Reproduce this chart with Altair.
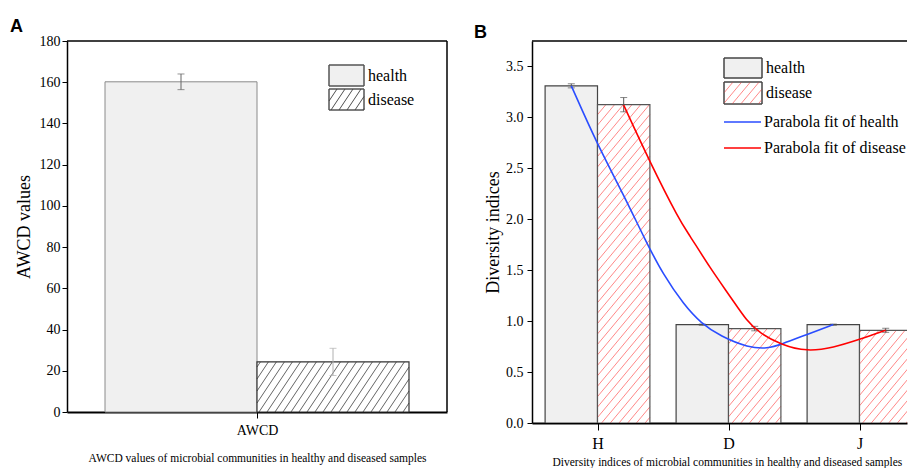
import math
import altair as alt
import pandas as pd

# ---------------- data ----------------
a_groups = ["health", "disease"]
a_values = [160.2, 24.3]
a_errors = [3.8, 6.6]

b_categories = ["H", "D", "J"]
b_health = [3.31, 0.965, 0.965]
b_health_err = [0.02, 0.006, 0.006]
b_disease = [3.125, 0.927, 0.91]
b_disease_err = [0.07, 0.022, 0.02]

# fitted parabola curves (x in category units: H=0, D=1, J=2)
fit_health_x = [-0.2, 0.0, 0.2, 0.37, 0.5, 0.66, 0.79, 0.94, 1.15, 1.3, 1.4, 1.6, 1.8]
fit_health_y = [3.31, 2.73, 2.24, 1.78, 1.46, 1.16, 0.98, 0.85, 0.74, 0.73, 0.77, 0.87, 0.966]
fit_disease_x = [0.2, 0.4, 0.63, 0.69, 0.86, 1.02, 1.14, 1.24, 1.4, 1.6, 1.8, 2.0, 2.2]
fit_disease_y = [3.12, 2.56, 1.98, 1.87, 1.52, 1.23, 1.0, 0.88, 0.77, 0.70, 0.74, 0.82, 0.91]

a_caption = "AWCD values of microbial communities in healthy and diseased samples"
b_caption = "Diversity indices of microbial communities in healthy and diseased samples"

# ---------------- layout / style ----------------
SERIF = "Liberation Serif"
SANS = "Liberation Sans"
A_W, A_H = 380, 371
B_W, B_H = 375, 382
A_XDOM = [-0.5, 0.5]
A_YDOM = [0, 180]
B_STEP = 131.0
B_XDOM = [-0.5, -0.5 + B_W / B_STEP]
B_YDOM = [0, 3.75]
BAR = 0.4  # width of one bar in category units


def hatch_px(x0, x1, y0, y1, step, slope):
    """Diagonal hatch segments (direction (1, slope), y up) clipped to a rectangle."""
    segs = []
    run = (y1 - y0) / slope
    k0 = math.floor((x0 - run) / step)
    k1 = math.ceil(x1 / step)
    for k in range(k0, k1 + 1):
        c = k * step
        xs = max(c, x0)
        xe = min(c + run, x1)
        if xe - xs > 0.3:
            segs.append((xs, y0 + slope * (xs - c), xe, y0 + slope * (xe - c)))
    return segs


def hatch_data(xd0, xd1, yd0, yd1, xdom, ydom, w, h, step, slope):
    kx = w / (xdom[1] - xdom[0])
    ky = h / (ydom[1] - ydom[0])
    segs = hatch_px((xd0 - xdom[0]) * kx, (xd1 - xdom[0]) * kx,
                    (yd0 - ydom[0]) * ky, (yd1 - ydom[0]) * ky, step, slope)
    return [dict(x=s[0] / kx + xdom[0], x2=s[2] / kx + xdom[0],
                 y=s[1] / ky + ydom[0], y2=s[3] / ky + ydom[0]) for s in segs]


def hatch_legend(x0, x1, ytop, ybot, step, slope):
    segs = hatch_px(x0, x1, -ybot, -ytop, step, slope)
    return pd.DataFrame([dict(x=s[0], x2=s[2], y=-s[1], y2=-s[3]) for s in segs])


def bars_table(values, errors, centers, offset):
    rows = []
    for v, e, c in zip(values, errors, centers):
        x0 = c + offset
        rows.append(dict(x0=x0, x1=x0 + BAR, xc=x0 + BAR / 2, v=v, base=0.0,
                         lo=v - e, hi=v + e))
    return pd.DataFrame(rows)


def PX(field):
    return alt.X(field, scale=None)


def PY(field):
    return alt.Y(field, scale=None)


ONE = pd.DataFrame(dict(k=[0]))


def frame_lines(xs, ys, xdom, ydom, right=True):
    top = alt.Chart(ONE).mark_rule(color="black", strokeWidth=1.5).encode(
        x=alt.X(datum=xdom[0], scale=xs), x2=alt.X2(datum=xdom[1]),
        y=alt.Y(datum=ydom[1], scale=ys))
    out = [top]
    if right:
        out.append(alt.Chart(ONE).mark_rule(color="black", strokeWidth=1.5).encode(
            x=alt.X(datum=xdom[1], scale=xs),
            y=alt.Y(datum=ydom[0], scale=ys), y2=alt.Y2(datum=ydom[1])))
    return out


def err_layers(df, xs, ys, color, cap):
    rule = alt.Chart(df).mark_rule(color=color, strokeWidth=1).encode(
        x=alt.X("xc:Q", scale=xs), y=alt.Y("lo:Q", scale=ys), y2="hi:Q")
    t1 = alt.Chart(df).mark_tick(color=color, orient="horizontal", size=cap, thickness=1).encode(
        x=alt.X("xc:Q", scale=xs), y=alt.Y("lo:Q", scale=ys))
    t2 = alt.Chart(df).mark_tick(color=color, orient="horizontal", size=cap, thickness=1).encode(
        x=alt.X("xc:Q", scale=xs), y=alt.Y("hi:Q", scale=ys))
    return [rule, t1, t2]


def legend_layers(boxes, hatch_df, hatch_color, fill_health, stroke_box, font_size):
    box = alt.Chart(boxes).mark_rect(strokeWidth=1).encode(
        x=PX("bx0:Q"), x2="bx1:Q", y=PY("by0:Q"), y2="by1:Q",
        fill=alt.Fill("label:N", scale=alt.Scale(domain=["health", "disease"],
                                                  range=[fill_health, "#ffffff"]), legend=None),
        stroke=alt.value(stroke_box))
    hat = alt.Chart(hatch_df).mark_rule(color=hatch_color, strokeWidth=0.8).encode(
        x=PX("x:Q"), x2="x2:Q", y=PY("y:Q"), y2="y2:Q")
    box2 = alt.Chart(boxes).mark_rect(fillOpacity=0, strokeWidth=1).encode(
        x=PX("bx0:Q"), x2="bx1:Q", y=PY("by0:Q"), y2="by1:Q", stroke=alt.value(stroke_box))
    txt = alt.Chart(boxes).mark_text(align="left", baseline="middle", font=SERIF,
                                     fontSize=font_size, color="black").encode(
        x=PX("tx:Q"), y=PY("ty:Q"), text="label:N")
    return [box, hat, box2, txt]


# ---------------- panel A ----------------
a_x_axis = alt.Axis(values=[0], labelExpr="'AWCD'", tickSize=6, tickColor="black",
                    domainColor="black", domainWidth=2, labelFont=SERIF, labelFontSize=14,
                    labelColor="black", labelPadding=5, grid=False, title=a_caption,
                    titleFont=SERIF, titleFontSize=11.5, titleFontWeight="normal",
                    titleColor="black", titlePadding=15)
a_y_axis = alt.Axis(values=list(range(0, 181, 10)),
                    labelExpr="datum.value % 20 === 0 ? datum.label : ''",
                    tickSize={"condition": {"test": "datum.value % 20 === 0", "value": 5},
                              "value": 3},
                    tickColor="black", domainColor="black", domainWidth=1.5,
                    labelFont=SERIF, labelFontSize=14, labelColor="black", labelPadding=2,
                    grid=False, title="AWCD values", titleFont=SERIF, titleFontSize=18,
                    titleFontWeight="normal", titleColor="black", titlePadding=6)
xa = alt.Scale(domain=A_XDOM, nice=False, zero=False)
ya = alt.Scale(domain=A_YDOM, nice=False)

a_health = bars_table([a_values[0]], [a_errors[0]], [0], -BAR)
a_dis = bars_table([a_values[1]], [a_errors[1]], [0], 0)

a_bar_h = alt.Chart(a_health).mark_rect(fill="#f0f0f0", stroke="#8a8a8a", strokeWidth=1).encode(
    x=alt.X("x0:Q", scale=xa, axis=a_x_axis), x2="x1:Q",
    y=alt.Y("v:Q", scale=ya, axis=a_y_axis), y2="base:Q")
a_bar_d = alt.Chart(a_dis).mark_rect(fill="white").encode(
    x=alt.X("x0:Q", scale=xa), x2="x1:Q", y=alt.Y("v:Q", scale=ya), y2="base:Q")
a_hatch_df = pd.DataFrame(hatch_data(a_dis.x0[0], a_dis.x1[0], 0, a_dis.v[0],
                                     A_XDOM, A_YDOM, A_W, A_H, 8, 1.5))
a_hatch = alt.Chart(a_hatch_df).mark_rule(color="#222222", strokeWidth=0.7).encode(
    x=alt.X("x:Q", scale=xa), x2="x2:Q", y=alt.Y("y:Q", scale=ya), y2="y2:Q")
a_bar_d2 = alt.Chart(a_dis).mark_rect(fillOpacity=0, stroke="#333333", strokeWidth=1.2).encode(
    x=alt.X("x0:Q", scale=xa), x2="x1:Q", y=alt.Y("v:Q", scale=ya), y2="base:Q")

a_leg = pd.DataFrame(dict(label=["health", "disease"], bx0=[262, 262], bx1=[297, 297],
                          by0=[24, 48], by1=[45, 69], tx=[301, 301], ty=[35, 59]))
a_leg_hatch = hatch_legend(262, 297, 48, 69, 8, 1.5)

panel_a = alt.layer(
    a_bar_h, a_bar_d, a_hatch, a_bar_d2,
    *err_layers(a_health, xa, ya, "#666666", 7),
    *err_layers(a_dis, xa, ya, "#b0b0b0", 7),
    *frame_lines(xa, ya, A_XDOM, A_YDOM, right=True),
    *legend_layers(a_leg, a_leg_hatch, "#222222", "#f0f0f0", "#555555", 16),
).properties(
    width=A_W, height=A_H,
    title=alt.TitleParams("A", anchor="start", frame="group", dx=-57, font=SANS,
                          fontSize=18, fontWeight="bold", color="black", offset=-2),
)

# ---------------- panel B ----------------
idx = list(range(len(b_categories)))
cat_expr = "[" + ",".join("'%s'" % c for c in b_categories) + "][datum.value]"
b_x_axis = alt.Axis(values=idx, labelExpr=cat_expr, tickSize=7, tickColor="black",
                    domainColor="black", domainWidth=2, labelFont=SERIF, labelFontSize=16,
                    labelColor="black", labelPadding=5, grid=False, title=b_caption,
                    titleFont=SERIF, titleFontSize=11.5, titleFontWeight="normal",
                    titleColor="black", titlePadding=5, titleX=20, titleAlign="left")
b_y_axis = alt.Axis(values=[i * 0.25 for i in range(15)],
                    labelExpr="round(datum.value * 100) % 50 === 0 ? format(datum.value, '.1f') : ''",
                    tickSize={"condition": {"test": "round(datum.value * 100) % 50 === 0",
                                            "value": 5}, "value": 3},
                    tickColor="black", domainColor="black", domainWidth=1.5,
                    labelFont=SERIF, labelFontSize=14, labelColor="black", labelPadding=4,
                    grid=False, title="Diversity indices", titleFont=SERIF, titleFontSize=18,
                    titleFontWeight="normal", titleColor="black", titlePadding=3)
xb = alt.Scale(domain=B_XDOM, nice=False, zero=False)
yb = alt.Scale(domain=B_YDOM, nice=False)
b_h = bars_table(b_health, b_health_err, idx, -BAR)
b_d = bars_table(b_disease, b_disease_err, idx, 0)

b_bar_h = alt.Chart(b_h).mark_rect(fill="#f0f0f0", stroke="#444444", strokeWidth=1.2,
                                   clip=True).encode(
    x=alt.X("x0:Q", scale=xb, axis=b_x_axis), x2="x1:Q",
    y=alt.Y("v:Q", scale=yb, axis=b_y_axis), y2="base:Q")
b_bar_d = alt.Chart(b_d).mark_rect(fill="white", clip=True).encode(
    x=alt.X("x0:Q", scale=xb), x2="x1:Q", y=alt.Y("v:Q", scale=yb), y2="base:Q")
b_hatch_rows = []
for _, r in b_d.iterrows():
    b_hatch_rows += hatch_data(r.x0, r.x1, 0, r.v, B_XDOM, B_YDOM, B_W, B_H, 8.7, 1.2)
b_hatch = alt.Chart(pd.DataFrame(b_hatch_rows)).mark_rule(
    color="#ff6a6a", strokeWidth=0.8, clip=True).encode(
    x=alt.X("x:Q", scale=xb), x2="x2:Q", y=alt.Y("y:Q", scale=yb), y2="y2:Q")
b_bar_d2 = alt.Chart(b_d).mark_rect(fillOpacity=0, stroke="#555555", strokeWidth=1.2,
                                    clip=True).encode(
    x=alt.X("x0:Q", scale=xb), x2="x1:Q", y=alt.Y("v:Q", scale=yb), y2="base:Q")

fit_df = pd.concat([
    pd.DataFrame(dict(x=fit_health_x, y=fit_health_y, s="health")),
    pd.DataFrame(dict(x=fit_disease_x, y=fit_disease_y, s="disease")),
])
fit_colors = alt.Scale(domain=["health", "disease"], range=["#2a4dff", "#ff0000"])
b_fit = alt.Chart(fit_df).mark_line(interpolate="basis", strokeWidth=1.6, clip=True).encode(
    x=alt.X("x:Q", scale=xb), y=alt.Y("y:Q", scale=yb),
    color=alt.Color("s:N", scale=fit_colors, legend=None), detail="s:N")

b_leg = pd.DataFrame(dict(label=["health", "disease"], bx0=[192, 192], bx1=[230, 230],
                          by0=[17, 41], by1=[37, 63], tx=[234, 234], ty=[27, 52]))
b_leg_hatch = hatch_legend(192, 230, 41, 63, 8.7, 1.2)
fit_leg = pd.DataFrame(dict(label=["Parabola fit of health", "Parabola fit of disease"],
                            s=["health", "disease"], lx0=[192, 192], lx1=[229, 229],
                            ly=[81, 107], tx=[232, 232]))
fit_leg_lines = alt.Chart(fit_leg).mark_rule(strokeWidth=1.6).encode(
    x=PX("lx0:Q"), x2="lx1:Q", y=PY("ly:Q"),
    color=alt.Color("s:N", scale=fit_colors, legend=None))
fit_leg_text = alt.Chart(fit_leg).mark_text(align="left", baseline="middle", font=SERIF,
                                            fontSize=16, color="black").encode(
    x=PX("tx:Q"), y=PY("ly:Q"), text="label:N")

panel_b = alt.layer(
    b_bar_h, b_bar_d, b_hatch, b_bar_d2,
    *err_layers(b_h, xb, yb, "#555555", 7),
    *err_layers(b_d, xb, yb, "#555555", 7),
    b_fit,
    *frame_lines(xb, yb, B_XDOM, B_YDOM, right=False),
    *legend_layers(b_leg, b_leg_hatch, "#ff6a6a", "#f0f0f0", "#444444", 16),
    fit_leg_lines, fit_leg_text,
).properties(
    width=B_W, height=B_H,
    title=alt.TitleParams("B", anchor="start", frame="group", dx=-58, font=SANS,
                          fontSize=18, fontWeight="bold", color="black", offset=-2),
)

chart = alt.hconcat(panel_a, panel_b, spacing=26).properties(
    padding={"left": 2, "top": 10, "right": 0, "bottom": 0},
    background="white",
).configure_view(strokeOpacity=0)

chart.save("out.html", embed_options={"renderer": "svg", "actions": False})
